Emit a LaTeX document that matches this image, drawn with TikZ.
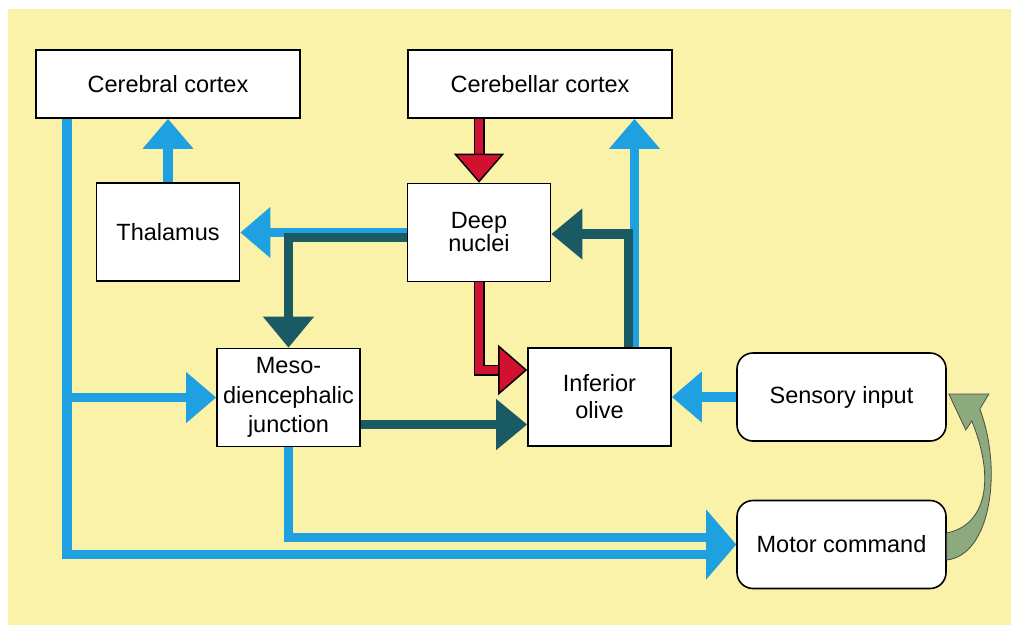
\documentclass[tikz,border=0pt]{standalone}
\usepackage{fontspec}
\setmainfont{Liberation Sans}
\usetikzlibrary{arrows.meta, positioning}
\definecolor{bgyel}{RGB}{250,242,168}
\definecolor{blu}{RGB}{31,160,224}
\definecolor{tea}{RGB}{25,90,100}
\definecolor{rd}{RGB}{210,16,47}
\definecolor{grn}{RGB}{141,170,126}
\tikzstyle{box} = [rectangle, minimum width=143pt, minimum height=98pt, align=center, draw=black, line width=1.6pt, fill=white, font=\fontsize{23.5}{27}\selectfont]
\tikzstyle{wbox} = [box, minimum width=264pt, minimum height=68pt]
\tikzstyle{rbox} = [box, rounded corners=16pt, minimum width=209pt, minimum height=88pt]
\tikzstyle{blueline} = [draw=blu, line width=9.5pt]
\tikzstyle{bluearrow} = [blueline, -{Triangle[width=49pt,length=30pt]}]
\tikzstyle{tealarrow} = [draw=tea, line width=9.5pt, -{Triangle[width=49pt,length=31pt]}]
\tikzstyle{redarrow} = [draw=black, double=rd, double distance=8pt, line width=1.5pt, -{Triangle[width=50pt,length=29pt,fill=rd]}]

\begin{document}
\begin{tikzpicture}[x=1pt, y=1pt, node distance=150pt]
  \useasboundingbox (0,0) rectangle (1011,-627);
  \fill [bgyel] (8,-9) rectangle (1011,-625);

  \node (cc) [wbox] at (168,-84) {Cerebral cortex};
  \node (cbc) [wbox, right of=cc, xshift=222pt] {Cerebellar cortex};
  \node (th) [box, below of=cc, yshift=2pt] {Thalamus};
  \node (dn) [box, below of=cbc, xshift=-61pt, yshift=1.5pt, font=\fontsize{23.5}{23}\selectfont] {Deep\\nuclei};
  \node (mdj) [box, below of=th, xshift=120.5pt, yshift=-15.5pt, font=\fontsize{23.5}{29.5}\selectfont] {Meso-\\diencephalic\\junction};
  \node (io) [box, below of=dn, xshift=120.5pt, yshift=-14.5pt] {Inferior\\olive};
  \node (si) [rbox, right of=io, xshift=92pt] {Sensory input};
  \node (mc) [rbox, below of=si, yshift=2.5pt] {Motor command};

  \coordinate (upj) at ([shift={(-30,7)}]mc.west);
  \coordinate (lowj) at ([shift={(-30,-10)}]mc.west);

  \draw [bluearrow] (th.north) -- (th.north |- cc.south);
  \draw [blueline] ([xshift=32pt]cc.south west) |- (lowj);
  \draw [bluearrow] ([xshift=32pt]cc.south west |- mdj.west) -- (mdj.west);
  \draw [blueline] (mdj.south) |- (upj);
  \fill [blu] (mc.west) -- ++(-30,35) -- ++(0,-70) -- cycle;

  \draw [redarrow] (cbc.south -| dn.north) -- (dn.north);
  \draw [redarrow] (dn.south) |- ([shift={(0,27)}]io.west);

  \draw [bluearrow] (dn.west) -- (dn.west -| th.east);
  \draw [tealarrow] ([shift={(0,-5)}]dn.west) -| (mdj.north);
  \draw [bluearrow] ([xshift=35pt]io.north) -- ([xshift=35pt]io.north |- cbc.south);
  \draw [tealarrow] ([xshift=29pt]io.north) |- ([shift={(0,-1.5)}]dn.east);
  \draw [tealarrow] ([shift={(0,-27)}]mdj.east) -- ([shift={(0,-27)}]mdj.east -| io.west);
  \draw [bluearrow] (si.west) -- (io.east);

  % motor command back to sensory input
  \begin{scope}[shift={(mc.east)}]
    \filldraw [fill=grn, draw=black!70, line width=0.8pt] (0,-15.5) .. controls (44,-10.5) and (56,74.5) .. (33,135.5) -- (42,150.5) -- (2,150.5) -- (19,114.5) -- (25,123.5) .. controls (49,64.5) and (39,19.5) .. (0,11.5) -- cycle;
  \end{scope}
\end{tikzpicture}
\end{document}
